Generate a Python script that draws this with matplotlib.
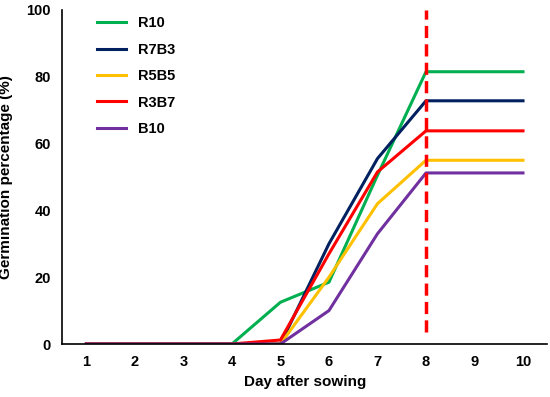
import matplotlib
matplotlib.use("Agg")
import matplotlib.pyplot as plt

days = [1, 2, 3, 4, 5, 6, 7, 8, 9, 10]
r10 = [0, 0, 0, 0, 12.5, 18.5, 50.5, 81.5, 81.5, 81.5]
r7b3 = [0, 0, 0, 0, 0, 30, 55.5, 72.8, 72.8, 72.8]
r5b5 = [0, 0, 0, 0, 0, 20, 42, 55, 55, 55]
r3b7 = [0, 0, 0, 0, 1.2, 27, 51.5, 63.8, 63.8, 63.8]
b10 = [0, 0, 0, 0, 0, 10, 33, 51.2, 51.2, 51.2]

plt.rcParams["font.family"] = ["Liberation Sans", "DejaVu Sans"]
plt.rcParams["font.weight"] = "bold"

fig = plt.figure(figsize=(5.5, 3.97), dpi=100)
ax = fig.add_axes([0.113, 0.1335, 0.882, 0.8415])

series = [("R10", r10, "#00B050"), ("R7B3", r7b3, "#002060"), ("R5B5", r5b5, "#FFC000"),
          ("R3B7", r3b7, "#FF0000"), ("B10", b10, "#7030A0")]
for lab, vals, c in series:
    ax.plot(days, vals, color=c, lw=2.2, label=lab)

ax.plot([8, 8], [3.5, 100], "--", color="#FF0000", lw=2.5, dashes=(3.5, 1.8))

ax.set_xlim(0.5, 10.5)
ax.set_ylim(0, 100)
ax.set_xticks(days)
ax.set_yticks(range(0, 101, 20))
ax.tick_params(length=0, labelsize=10.5, pad=8)
for s in ["top", "right"]:
    ax.spines[s].set_visible(False)
ax.spines["left"].set_linewidth(1.2)
ax.spines["bottom"].set_linewidth(1.2)
ax.set_xlabel("Day after sowing", fontsize=11, fontweight="bold", labelpad=4)
ax.set_ylabel("Germination percentage (%)", fontsize=11, fontweight="bold", labelpad=10)
ax.legend(loc="upper left", frameon=False, bbox_to_anchor=(0.045, 1.02), fontsize=10.5,
          handlelength=2.0, labelspacing=0.85)

fig.savefig("out.png", dpi=100)
